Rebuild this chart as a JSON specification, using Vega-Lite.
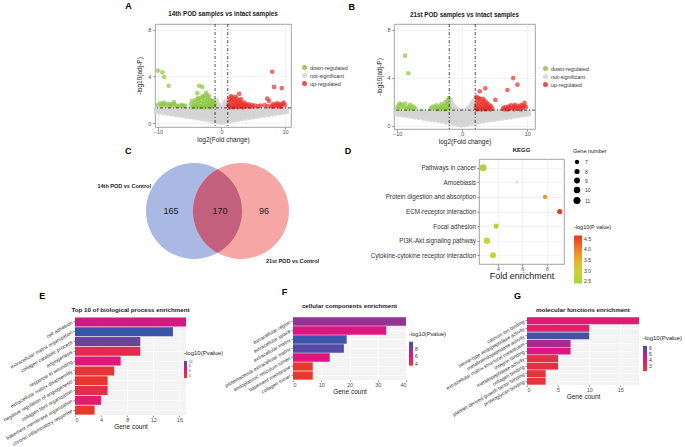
{
"$schema":"https://vega.github.io/schema/vega-lite/v6.json",
"padding":{"left":2,"top":1,"right":0,"bottom":0},
"background":"white",
"config":{
 "font":"Liberation Sans",
 "view":{"stroke":null},
 "axis":{"labelColor":"#4d4d4d","titleColor":"#1a1a1a","tickColor":"#4d4d4d","domainColor":"#4d4d4d","labelFontSize":5.5,"titleFontSize":6.5,"titleFontWeight":"normal","tickSize":2,"tickWidth":0.6,"labelPadding":1,"titlePadding":2},
 "title":{"fontSize":6.3,"fontWeight":"bold","color":"#1a1a1a","anchor":"middle"},
 "legend":{"labelColor":"#333333","titleColor":"#1a1a1a","titleFontWeight":"normal","labelFontSize":5,"titleFontSize":6}
},
"datasets":{
 "greyBase":[
{"x":-10.3,"y":0.95},{"x":-10.3,"y":1.2},{"x":-9.7,"y":0.9},{"x":-9.7,"y":1.15},{"x":-9.1,"y":0.85},{"x":-9.1,"y":1.12},
{"x":-8.5,"y":0.8},{"x":-8.5,"y":1.05},{"x":-8.5,"y":1.25},{"x":-7.9,"y":0.75},{"x":-7.9,"y":1.0},{"x":-7.9,"y":1.22},
{"x":-7.3,"y":0.7},{"x":-7.3,"y":0.95},{"x":-7.3,"y":1.2},{"x":-6.7,"y":0.65},{"x":-6.7,"y":0.92},{"x":-6.7,"y":1.18},
{"x":-6.1,"y":0.6},{"x":-6.1,"y":0.88},{"x":-6.1,"y":1.15},{"x":-5.5,"y":0.55},{"x":-5.5,"y":0.82},{"x":-5.5,"y":1.1},
{"x":-4.9,"y":0.5},{"x":-4.9,"y":0.78},{"x":-4.9,"y":1.05},{"x":-4.9,"y":1.25},{"x":-4.3,"y":0.45},{"x":-4.3,"y":0.72},{"x":-4.3,"y":1.0},{"x":-4.3,"y":1.24},
{"x":-3.7,"y":0.4},{"x":-3.7,"y":0.66},{"x":-3.7,"y":0.93},{"x":-3.7,"y":1.2},{"x":-3.1,"y":0.35},{"x":-3.1,"y":0.6},{"x":-3.1,"y":0.88},{"x":-3.1,"y":1.15},
{"x":-2.5,"y":0.28},{"x":-2.5,"y":0.55},{"x":-2.5,"y":0.82},{"x":-2.5,"y":1.1},{"x":-1.9,"y":0.22},{"x":-1.9,"y":0.5},{"x":-1.9,"y":0.78},{"x":-1.9,"y":1.05},{"x":-1.9,"y":1.27},
{"x":-1.3,"y":0.15},{"x":-1.3,"y":0.42},{"x":-1.3,"y":0.7},{"x":-1.3,"y":0.98},{"x":-1.3,"y":1.24},{"x":-0.7,"y":0.08},{"x":-0.7,"y":0.35},{"x":-0.7,"y":0.62},{"x":-0.7,"y":0.9},{"x":-0.7,"y":1.18},
{"x":-0.2,"y":0.03},{"x":-0.2,"y":0.3},{"x":-0.2,"y":0.58},{"x":-0.2,"y":0.85},{"x":-0.2,"y":1.1},{"x":0.3,"y":0.05},{"x":0.3,"y":0.32},{"x":0.3,"y":0.6},{"x":0.3,"y":0.88},{"x":0.3,"y":1.15},
{"x":0.8,"y":0.1},{"x":0.8,"y":0.38},{"x":0.8,"y":0.66},{"x":0.8,"y":0.94},{"x":0.8,"y":1.22},{"x":1.4,"y":0.15},{"x":1.4,"y":0.43},{"x":1.4,"y":0.72},{"x":1.4,"y":1.0},{"x":1.4,"y":1.25},
{"x":2.0,"y":0.22},{"x":2.0,"y":0.5},{"x":2.0,"y":0.78},{"x":2.0,"y":1.05},{"x":2.0,"y":1.28},{"x":2.6,"y":0.28},{"x":2.6,"y":0.56},{"x":2.6,"y":0.84},{"x":2.6,"y":1.12},
{"x":3.2,"y":0.34},{"x":3.2,"y":0.62},{"x":3.2,"y":0.9},{"x":3.2,"y":1.18},{"x":3.8,"y":0.4},{"x":3.8,"y":0.68},{"x":3.8,"y":0.95},{"x":3.8,"y":1.22},
{"x":4.4,"y":0.45},{"x":4.4,"y":0.73},{"x":4.4,"y":1.0},{"x":4.4,"y":1.25},{"x":5.0,"y":0.5},{"x":5.0,"y":0.78},{"x":5.0,"y":1.05},{"x":5.6,"y":0.55},{"x":5.6,"y":0.82},{"x":5.6,"y":1.1},
{"x":6.2,"y":0.6},{"x":6.2,"y":0.87},{"x":6.2,"y":1.15},{"x":6.8,"y":0.65},{"x":6.8,"y":0.92},{"x":6.8,"y":1.2},{"x":7.4,"y":0.7},{"x":7.4,"y":0.97},{"x":7.4,"y":1.22},
{"x":8.0,"y":0.75},{"x":8.0,"y":1.0},{"x":8.0,"y":1.25},{"x":8.6,"y":0.8},{"x":8.6,"y":1.05},{"x":9.2,"y":0.85},{"x":9.2,"y":1.1},{"x":9.8,"y":0.9},{"x":9.8,"y":1.15},{"x":10.3,"y":0.95},{"x":10.3,"y":1.2},
{"x":-10.0,"y":1.07},{"x":-9.4,"y":1.0},{"x":-8.8,"y":0.95},{"x":-8.8,"y":1.18},{"x":-8.2,"y":0.9},{"x":-8.2,"y":1.13},{"x":-7.6,"y":0.85},{"x":-7.6,"y":1.1},
{"x":-7.0,"y":0.8},{"x":-7.0,"y":1.07},{"x":-6.4,"y":0.75},{"x":-6.4,"y":1.03},{"x":-6.4,"y":1.25},{"x":-5.8,"y":0.7},{"x":-5.8,"y":0.97},{"x":-5.8,"y":1.22},
{"x":-5.2,"y":0.65},{"x":-5.2,"y":0.93},{"x":-5.2,"y":1.2},{"x":-4.6,"y":0.6},{"x":-4.6,"y":0.88},{"x":-4.6,"y":1.15},{"x":-4.0,"y":0.55},{"x":-4.0,"y":0.82},{"x":-4.0,"y":1.1},
{"x":-3.4,"y":0.5},{"x":-3.4,"y":0.76},{"x":-3.4,"y":1.05},{"x":-3.4,"y":1.27},{"x":-2.8,"y":0.45},{"x":-2.8,"y":0.7},{"x":-2.8,"y":0.98},{"x":-2.8,"y":1.25},
{"x":-2.2,"y":0.38},{"x":-2.2,"y":0.65},{"x":-2.2,"y":0.92},{"x":-2.2,"y":1.2},{"x":-1.6,"y":0.3},{"x":-1.6,"y":0.58},{"x":-1.6,"y":0.85},{"x":-1.6,"y":1.12},
{"x":-1.0,"y":0.25},{"x":-1.0,"y":0.5},{"x":-1.0,"y":0.77},{"x":-1.0,"y":1.05},{"x":-0.45,"y":0.18},{"x":-0.45,"y":0.45},{"x":-0.45,"y":0.72},{"x":-0.45,"y":1.0},{"x":-0.45,"y":1.25},
{"x":0.05,"y":0.15},{"x":0.05,"y":0.45},{"x":0.05,"y":0.72},{"x":0.05,"y":1.0},{"x":0.05,"y":1.25},{"x":0.55,"y":0.2},{"x":0.55,"y":0.48},{"x":0.55,"y":0.75},{"x":0.55,"y":1.03},
{"x":1.1,"y":0.28},{"x":1.1,"y":0.55},{"x":1.1,"y":0.83},{"x":1.1,"y":1.1},{"x":1.7,"y":0.33},{"x":1.7,"y":0.6},{"x":1.7,"y":0.88},{"x":1.7,"y":1.15},
{"x":2.3,"y":0.38},{"x":2.3,"y":0.66},{"x":2.3,"y":0.93},{"x":2.3,"y":1.2},{"x":2.9,"y":0.43},{"x":2.9,"y":0.7},{"x":2.9,"y":0.98},{"x":2.9,"y":1.25},
{"x":3.5,"y":0.5},{"x":3.5,"y":0.78},{"x":3.5,"y":1.05},{"x":4.1,"y":0.57},{"x":4.1,"y":0.85},{"x":4.1,"y":1.1},{"x":4.7,"y":0.62},{"x":4.7,"y":0.9},{"x":4.7,"y":1.17},
{"x":5.3,"y":0.66},{"x":5.3,"y":0.95},{"x":5.3,"y":1.22},{"x":5.9,"y":0.7},{"x":5.9,"y":0.98},{"x":5.9,"y":1.24},{"x":6.5,"y":0.75},{"x":6.5,"y":1.03},
{"x":7.1,"y":0.8},{"x":7.1,"y":1.08},{"x":7.7,"y":0.85},{"x":7.7,"y":1.1},{"x":8.3,"y":0.9},{"x":8.3,"y":1.15},{"x":8.9,"y":0.95},{"x":8.9,"y":1.2},{"x":9.5,"y":1.0},{"x":9.5,"y":1.22},{"x":10.0,"y":1.05}
 ],
 "aSpike":[
{"x":-0.9,"y":1.45},{"x":-0.8,"y":1.7},{"x":-0.7,"y":1.95},{"x":-0.6,"y":1.6},{"x":-0.5,"y":1.4},{"x":-0.4,"y":1.55},{"x":-0.3,"y":1.35},
{"x":0.3,"y":1.4},{"x":0.4,"y":1.5},{"x":0.5,"y":1.75},{"x":0.6,"y":1.6},{"x":0.7,"y":1.9},{"x":0.8,"y":1.5},{"x":0.9,"y":1.4}
 ],
 "aDown":[
{"x":-10.0,"y":4.5},{"x":-9.3,"y":4.35},{"x":-9.0,"y":3.95},{"x":-8.3,"y":3.2},
{"x":-10.0,"y":1.55},{"x":-9.6,"y":1.7},{"x":-9.2,"y":1.6},{"x":-9.0,"y":1.75},{"x":-8.7,"y":1.5},{"x":-8.4,"y":1.65},{"x":-8.0,"y":1.6},{"x":-7.7,"y":1.55},{"x":-7.4,"y":1.65},{"x":-7.5,"y":1.8},{"x":-9.4,"y":1.45},{"x":-8.1,"y":1.45},{"x":-7.2,"y":1.5},{"x":-6.9,"y":1.45},
{"x":-6.5,"y":1.5},{"x":-6.2,"y":1.55},{"x":-6.0,"y":1.45},{"x":-5.7,"y":1.5},
{"x":-4.8,"y":1.6},{"x":-4.6,"y":1.9},{"x":-4.4,"y":1.5},{"x":-4.2,"y":1.75},{"x":-4.0,"y":2.0},{"x":-4.0,"y":1.45},{"x":-3.8,"y":1.6},{"x":-3.6,"y":1.85},{"x":-3.5,"y":2.15},{"x":-3.4,"y":1.45},
{"x":-3.2,"y":1.7},{"x":-3.1,"y":1.95},{"x":-3.0,"y":2.25},{"x":-3.0,"y":1.4},{"x":-2.8,"y":1.6},{"x":-2.7,"y":1.85},{"x":-2.6,"y":2.1},{"x":-2.5,"y":2.4},{"x":-2.5,"y":1.45},
{"x":-2.3,"y":1.7},{"x":-2.2,"y":1.95},{"x":-2.1,"y":2.2},{"x":-2.0,"y":1.5},{"x":-1.9,"y":1.75},{"x":-1.8,"y":2.0},{"x":-1.7,"y":1.45},{"x":-1.6,"y":1.65},{"x":-1.5,"y":1.9},{"x":-1.4,"y":1.5},
{"x":-1.3,"y":1.75},{"x":-1.2,"y":1.45},{"x":-1.1,"y":1.6},{"x":-4.5,"y":1.35},{"x":-3.9,"y":1.35},{"x":-3.3,"y":1.35},{"x":-2.7,"y":1.35},{"x":-2.2,"y":1.38},{"x":-1.6,"y":1.35},
{"x":-3.7,"y":2.1},{"x":-2.9,"y":2.3},{"x":-1.2,"y":1.9},{"x":-2.0,"y":2.35},{"x":-3.5,"y":3.2},{"x":-3.0,"y":3.1},{"x":-2.4,"y":2.6},{"x":-3.8,"y":2.55}
 ],
 "aUp":[
{"x":1.1,"y":1.5},{"x":1.2,"y":1.8},{"x":1.3,"y":2.05},{"x":1.4,"y":1.4},{"x":1.5,"y":1.65},{"x":1.6,"y":1.95},{"x":1.7,"y":2.2},{"x":1.8,"y":1.5},{"x":1.9,"y":1.75},{"x":2.0,"y":2.0},
{"x":2.1,"y":1.4},{"x":2.2,"y":1.6},{"x":2.3,"y":1.85},{"x":2.4,"y":2.1},{"x":2.5,"y":1.5},{"x":2.6,"y":1.7},{"x":2.7,"y":1.95},{"x":2.8,"y":1.4},{"x":2.9,"y":1.6},{"x":3.0,"y":1.8},
{"x":3.1,"y":2.05},{"x":3.2,"y":1.45},{"x":3.3,"y":1.65},{"x":3.5,"y":1.5},{"x":3.6,"y":1.75},{"x":3.8,"y":1.4},{"x":3.9,"y":1.6},{"x":1.3,"y":1.35},{"x":1.9,"y":1.35},{"x":2.6,"y":1.35},
{"x":3.4,"y":1.35},{"x":4.1,"y":1.45},{"x":4.3,"y":1.6},{"x":4.5,"y":1.4},{"x":1.5,"y":2.3},{"x":2.2,"y":2.25},
{"x":4.8,"y":1.55},{"x":5.0,"y":1.4},{"x":5.3,"y":1.5},{"x":5.8,"y":1.45},{"x":6.2,"y":1.5},{"x":6.8,"y":1.55},{"x":7.3,"y":1.45},{"x":7.5,"y":1.9},
{"x":2.8,"y":2.5},{"x":8.0,"y":4.4},{"x":8.3,"y":3.1},{"x":9.5,"y":3.0},{"x":7.2,"y":2.1},
{"x":7.9,"y":1.5},{"x":8.2,"y":1.65},{"x":8.4,"y":1.45},{"x":8.6,"y":1.55},{"x":8.8,"y":1.7},{"x":9.0,"y":1.5},{"x":9.2,"y":1.6},{"x":9.4,"y":1.45},{"x":9.6,"y":1.65},{"x":9.8,"y":1.75},{"x":10.0,"y":1.55},{"x":8.0,"y":1.4},{"x":9.1,"y":1.4}
 ],
 "bSpike":[
{"x":-1.9,"y":2.2},{"x":-1.8,"y":1.9},{"x":-1.7,"y":2.05},{"x":-1.6,"y":1.6},{"x":-1.5,"y":1.8},{"x":-1.4,"y":1.45},{"x":-1.3,"y":1.65},{"x":-1.1,"y":1.5},{"x":-0.9,"y":1.4},{"x":-0.6,"y":1.35},
{"x":0.6,"y":1.35},{"x":0.9,"y":1.45},{"x":1.1,"y":1.55},{"x":1.3,"y":1.7},{"x":1.5,"y":1.9},{"x":1.7,"y":2.05},{"x":1.8,"y":1.75},{"x":1.9,"y":2.2},{"x":1.6,"y":1.5}
 ],
 "bDown":[
{"x":-8.8,"y":5.85},{"x":-8.3,"y":4.38},
{"x":-10.0,"y":1.5},{"x":-9.8,"y":1.65},{"x":-9.5,"y":1.4},{"x":-9.3,"y":1.75},{"x":-9.0,"y":1.55},{"x":-8.8,"y":1.85},{"x":-8.6,"y":1.45},{"x":-8.3,"y":1.6},{"x":-8.0,"y":1.75},{"x":-7.8,"y":1.5},{"x":-7.5,"y":1.6},{"x":-7.3,"y":1.45},{"x":-9.6,"y":1.85},{"x":-8.1,"y":1.4},
{"x":-4.8,"y":1.45},{"x":-4.5,"y":1.6},{"x":-4.2,"y":1.5},{"x":-4.0,"y":1.7},{"x":-3.7,"y":1.45},{"x":-3.5,"y":1.6},{"x":-3.2,"y":1.8},{"x":-3.0,"y":1.5},{"x":-2.8,"y":1.65},{"x":-2.6,"y":1.95},
{"x":-2.5,"y":1.4},{"x":-2.4,"y":1.75},{"x":-2.3,"y":2.1},{"x":-2.2,"y":1.55},{"x":-2.1,"y":1.85},{"x":-2.05,"y":2.3},{"x":-2.0,"y":1.45},{"x":-3.9,"y":1.35},{"x":-3.3,"y":1.4},{"x":-2.7,"y":1.35}
 ],
 "bUp":[
{"x":2.1,"y":1.5},{"x":2.2,"y":1.8},{"x":2.3,"y":2.1},{"x":2.4,"y":1.4},{"x":2.5,"y":1.65},{"x":2.6,"y":1.95},{"x":2.7,"y":2.25},{"x":2.8,"y":1.5},{"x":2.9,"y":1.75},{"x":3.0,"y":2.0},
{"x":3.1,"y":1.4},{"x":3.2,"y":1.6},{"x":3.3,"y":1.85},{"x":3.4,"y":2.1},{"x":3.5,"y":1.5},{"x":3.6,"y":1.7},{"x":3.7,"y":1.95},{"x":3.8,"y":1.4},{"x":3.9,"y":1.6},{"x":4.0,"y":1.8},
{"x":4.2,"y":1.5},{"x":4.4,"y":1.65},{"x":4.6,"y":1.45},{"x":2.2,"y":1.35},{"x":2.9,"y":1.35},{"x":3.6,"y":1.35},{"x":4.3,"y":1.35},{"x":2.5,"y":2.3},{"x":3.2,"y":2.25},
{"x":6.3,"y":1.45},{"x":6.6,"y":1.55},{"x":6.9,"y":1.4},{"x":7.1,"y":1.6},{"x":7.3,"y":1.5},{"x":7.5,"y":1.7},{"x":7.7,"y":1.45},{"x":7.9,"y":1.6},{"x":8.1,"y":1.75},{"x":8.3,"y":1.5},
{"x":8.5,"y":1.65},{"x":8.7,"y":1.45},{"x":8.9,"y":1.6},{"x":9.1,"y":1.75},{"x":9.3,"y":1.5},{"x":9.5,"y":1.65},{"x":9.6,"y":1.9},{"x":9.8,"y":1.55},{"x":7.0,"y":1.35},{"x":8.0,"y":1.38},{"x":9.0,"y":1.36},{"x":6.5,"y":1.35},
{"x":2.2,"y":2.4},{"x":2.7,"y":2.87},{"x":3.55,"y":3.12},{"x":5.1,"y":2.15},{"x":6.95,"y":2.98},{"x":7.85,"y":3.98},{"x":8.5,"y":3.43}
 ],
 "kegg":[
{"pathway":"Pathways in cancer","fe":2.78,"n":11,"p":2.5},
{"pathway":"Amoebiasis","fe":5.55,"n":5,"p":2.7},
{"pathway":"Protein digestion and absorption","fe":7.85,"n":7,"p":3.85},
{"pathway":"ECM-receptor interaction","fe":9.05,"n":8,"p":4.6},
{"pathway":"Focal adhesion","fe":3.85,"n":8,"p":2.65},
{"pathway":"PI3K-Akt signaling pathway","fe":3.1,"n":10,"p":2.95},
{"pathway":"Cytokine-cytokine receptor interaction","fe":3.6,"n":9,"p":2.8}
 ],
 "bp":[
{"term":"cell adhesion","count":17,"p":6.8},
{"term":"extracellular matrix organization","count":15,"p":10},
{"term":"collagen catabolic process","count":10,"p":9},
{"term":"angiogenesis","count":10,"p":4.5},
{"term":"response to wounding","count":7,"p":6.2},
{"term":"extracellular matrix disassembly","count":6,"p":3.5},
{"term":"negative regulation of angiogenesis","count":5,"p":3.3},
{"term":"collagen fibril organization","count":5,"p":4.2},
{"term":"basement membrane organization","count":4,"p":5.8},
{"term":"chronic inflammatory response","count":3,"p":3.1}
 ],
 "cc":[
{"term":"extracellular region","count":40,"p":7.8},
{"term":"extracellular space","count":33,"p":6.1},
{"term":"extracellular matrix","count":19,"p":9.9},
{"term":"proteinaceous extracellular matrix","count":18,"p":9.3},
{"term":"endoplasmic reticulum lumen","count":13,"p":6.0},
{"term":"basement membrane","count":7,"p":3.6},
{"term":"collagen trimer","count":7,"p":3.6}
 ],
 "mf":[
{"term":"calcium ion binding","count":18,"p":3.9},
{"term":"serine-type endopeptidase activity","count":10,"p":3.7},
{"term":"metalloendopeptidase activity","count":10,"p":6.2},
{"term":"extracellular matrix structural constituent","count":7,"p":4.9},
{"term":"integrin binding","count":7,"p":4.2},
{"term":"metallopeptidase activity","count":5,"p":2.8},
{"term":"collagen binding","count":5,"p":2.7},
{"term":"platelet-derived growth factor binding","count":3,"p":2.5},
{"term":"proteoglycan binding","count":3,"p":2.4}
 ]
},
"spacing":1,
"resolve":{"scale":{"color":"independent","size":"independent"},"legend":{"color":"independent","size":"independent"}},
"vconcat":[
 {"spacing":-1,"resolve":{"scale":{"color":"independent","size":"independent"},"legend":{"color":"independent","size":"independent"}},"hconcat":[
  {"width":51,"height":1,"data":{"values":[]},"mark":"point","view":{"stroke":null}},
  {"title":{"text":"A","anchor":"start","fontSize":9,"fontWeight":"bold","color":"#000","dx":-11,"offset":0},
   "resolve":{"scale":{"color":"independent"},"legend":{"color":"independent"}},
   "vconcat":[{
    "width":136,"height":103,
    "title":{"text":"14th POD samples vs intact samples","offset":6},
    "view":{"stroke":"#8c8c8c","strokeWidth":0.8},
    "layer":[
     {"data":{"name":"greyBase"},"mark":{"type":"point","filled":true,"size":22,"opacity":0.85},
      "encoding":{
       "x":{"field":"x","type":"quantitative","scale":{"domain":[-10.45,10.95],"nice":false,"zero":false},"axis":{"title":"log2(Fold change)","values":[-10,-5,0,5,10],"grid":true,"gridColor":"#ebebeb","gridWidth":0.6,"domain":false,"labelPadding":0.5,"titlePadding":1}},
       "y":{"field":"y","type":"quantitative","scale":{"domain":[-0.34,8.5],"nice":false,"zero":false},"axis":{"title":"-log10(adj-P)","values":[0,2,4,6,8],"grid":true,"gridColor":"#ebebeb","gridWidth":0.6,"domain":false,"labelPadding":2.3,"titlePadding":5}},
       "color":{"datum":"not-significant","scale":{"domain":["down-regulated","not-significant","up-regulated"],"range":["#8cc63f","#d3d3d3","#e8302a"]},
        "legend":{"title":null,"orient":"none","legendX":146,"legendY":40,"symbolType":"circle","symbolSize":25,"labelFontSize":5.5,"rowPadding":1,"labelOffset":2}}
      }},
     {"data":{"name":"aSpike"},"mark":{"type":"point","filled":true,"size":22,"opacity":0.85},
      "encoding":{"x":{"field":"x","type":"quantitative"},"y":{"field":"y","type":"quantitative"},"color":{"datum":"not-significant"}}},
     {"data":{"name":"aDown"},"mark":{"type":"point","filled":true,"size":22,"opacity":0.7},
      "encoding":{"x":{"field":"x","type":"quantitative"},"y":{"field":"y","type":"quantitative"},"color":{"datum":"down-regulated"}}},
     {"data":{"name":"aUp"},"mark":{"type":"point","filled":true,"size":22,"opacity":0.7},
      "encoding":{"x":{"field":"x","type":"quantitative"},"y":{"field":"y","type":"quantitative"},"color":{"datum":"up-regulated"}}},
     {"data":{"values":[{"v":-1},{"v":1}]},"mark":{"type":"rule","color":"#222","strokeWidth":0.8,"strokeDash":[3,2,1,2]},
      "encoding":{"x":{"field":"v","type":"quantitative"}}},
     {"data":{"values":[{"h":1.3}]},"mark":{"type":"rule","color":"#222","strokeWidth":0.8,"strokeDash":[3,2,1,2]},
      "encoding":{"y":{"field":"h","type":"quantitative"}}}
    ]
   }]},
  {"title":{"text":"B","anchor":"start","fontSize":9,"fontWeight":"bold","color":"#000","dx":-28,"offset":0},
   "resolve":{"scale":{"color":"independent"},"legend":{"color":"independent"}},
   "vconcat":[{
    "width":141,"height":105,
    "title":{"text":"21st POD samples vs intact samples","offset":5},
    "view":{"stroke":"#8c8c8c","strokeWidth":0.8},
    "layer":[
     {"data":{"name":"greyBase"},"mark":{"type":"point","filled":true,"size":22,"opacity":0.85},
      "encoding":{
       "x":{"field":"x","type":"quantitative","scale":{"domain":[-10.5,11.2],"nice":false,"zero":false},"axis":{"title":"log2(Fold change)","values":[-10,-5,0,5,10],"grid":true,"gridColor":"#ebebeb","gridWidth":0.6,"domain":false,"labelPadding":0.5,"titlePadding":1}},
       "y":{"field":"y","type":"quantitative","scale":{"domain":[-0.28,8.5],"nice":false,"zero":false},"axis":{"title":"-log10(adj-P)","values":[0,2,4,6,8],"grid":true,"gridColor":"#ebebeb","gridWidth":0.6,"domain":false,"labelPadding":2,"titlePadding":4}},
       "color":{"datum":"not-significant","scale":{"domain":["down-regulated","not-significant","up-regulated"],"range":["#8cc63f","#d3d3d3","#e8302a"]},
        "legend":{"title":null,"orient":"none","legendX":148,"legendY":41,"symbolType":"circle","symbolSize":25,"labelFontSize":5.5,"rowPadding":1,"labelOffset":2}}
      }},
     {"data":{"name":"bSpike"},"mark":{"type":"point","filled":true,"size":22,"opacity":0.85},
      "encoding":{"x":{"field":"x","type":"quantitative"},"y":{"field":"y","type":"quantitative"},"color":{"datum":"not-significant"}}},
     {"data":{"name":"bDown"},"mark":{"type":"point","filled":true,"size":22,"opacity":0.7},
      "encoding":{"x":{"field":"x","type":"quantitative"},"y":{"field":"y","type":"quantitative"},"color":{"datum":"down-regulated"}}},
     {"data":{"name":"bUp"},"mark":{"type":"point","filled":true,"size":22,"opacity":0.7},
      "encoding":{"x":{"field":"x","type":"quantitative"},"y":{"field":"y","type":"quantitative"},"color":{"datum":"up-regulated"}}},
     {"data":{"values":[{"v":-2},{"v":2}]},"mark":{"type":"rule","color":"#222","strokeWidth":0.8,"strokeDash":[3,2,1,2]},
      "encoding":{"x":{"field":"v","type":"quantitative"}}},
     {"data":{"values":[{"h":1.3}]},"mark":{"type":"rule","color":"#222","strokeWidth":0.8,"strokeDash":[3,2,1,2]},
      "encoding":{"y":{"field":"h","type":"quantitative"}}}
    ]
   }]}
 ]},
 {"spacing":12,"resolve":{"scale":{"color":"independent","size":"independent"},"legend":{"color":"independent","size":"independent"}},"hconcat":[
  {"width":1,"height":1,"data":{"values":[]},"mark":"point","view":{"stroke":null}},
  {"width":244,"height":110,
   "title":{"text":"C","anchor":"start","fontSize":9,"fontWeight":"bold","color":"#000","dx":37,"offset":3},
   "layer":[
    {"data":{"values":[{"set":"14th POD vs Control","u":0,"v":0},{"set":"21st POD vs Control","u":1,"v":0}]},
     "mark":{"type":"point","shape":"circle","filled":true,"size":9216,"opacity":1},
     "encoding":{
      "x":{"field":"u","type":"quantitative","scale":{"domain":[-2.255,2.936],"nice":false,"zero":false},"axis":null},
      "y":{"field":"v","type":"quantitative","scale":{"domain":[-1.234,1.106],"nice":false,"zero":false},"axis":null},
      "color":{"field":"set","type":"nominal","scale":{"domain":["14th POD vs Control","21st POD vs Control"],"range":["#a9b9e4","#f7a6a6"]},"legend":null}}},
    {"data":{"values":[{"part":"both","u":0.5,"v":0}]},
     "mark":{"type":"point","shape":"M0,-0.872A1,1,0,0,1,0,0.872A1,1,0,0,1,0,-0.872Z","filled":true,"size":9216,"opacity":1,"color":"#c2607e"},
     "encoding":{"x":{"field":"u","type":"quantitative"},"y":{"field":"v","type":"quantitative"}}},
    {"data":{"values":[{"n":"165","u":-0.49,"v":0},{"n":"170","u":0.553,"v":0},{"n":"96","u":1.49,"v":0}]},
     "mark":{"type":"text","fontSize":9,"color":"#1a1a1a"},
     "encoding":{"x":{"field":"u","type":"quantitative"},"y":{"field":"v","type":"quantitative"},"text":{"field":"n"}}},
    {"data":{"values":[{"lab":"14th POD vs Control","u":-0.915,"v":0.53}]},
     "mark":{"type":"text","fontSize":5.5,"fontWeight":"bold","align":"right","color":"#1a1a1a"},
     "encoding":{"x":{"field":"u","type":"quantitative"},"y":{"field":"v","type":"quantitative"},"text":{"field":"lab"}}},
    {"data":{"values":[{"lab":"21st POD vs Control","u":1.53,"v":-1.06}]},
     "mark":{"type":"text","fontSize":5.5,"fontWeight":"bold","align":"left","color":"#1a1a1a"},
     "encoding":{"x":{"field":"u","type":"quantitative"},"y":{"field":"v","type":"quantitative"},"text":{"field":"lab"}}}
   ]},
  {"title":{"text":"D","anchor":"start","fontSize":9,"fontWeight":"bold","color":"#000","dx":-25,"dy":9,"offset":0},
   "resolve":{"scale":{"color":"independent","size":"independent"},"legend":{"color":"independent","size":"independent"}},
   "vconcat":[{
    "width":85,"height":105,
    "title":{"text":"KEGG","offset":-4,"fontSize":6},
    "view":{"stroke":"#8c8c8c","strokeWidth":0.8},
    "data":{"name":"kegg"},
    "mark":{"type":"circle","opacity":1},
    "encoding":{
     "x":{"field":"fe","type":"quantitative","scale":{"domain":[2.45,9.4],"nice":false,"zero":false},"axis":{"title":"Fold enrichment","values":[4,6,8],"titleFontSize":9,"titlePadding":0,"labelFontSize":5,"labelPadding":0.5,"grid":true,"gridColor":"#ebebeb","gridWidth":0.6,"domain":false}},
     "y":{"field":"pathway","type":"nominal","sort":null,"scale":{"type":"point","padding":0.6},"axis":{"title":null,"labelFontSize":6.3,"labelColor":"#333333","grid":true,"gridColor":"#ebebeb","gridWidth":0.6,"domain":false,"labelPadding":1.5}},
     "size":{"field":"n","type":"quantitative","scale":{"domain":[5,11],"range":[3,50]},
      "legend":{"title":"Gene number","orient":"none","legendX":94,"legendY":-10,"values":[7,8,9,10,11],"symbolFillColor":"#000000","symbolStrokeColor":"#000000","symbolStrokeWidth":0,"titleFontSize":5.5,"labelFontSize":5,"rowPadding":3}},
     "color":{"field":"p","type":"quantitative","scale":{"domain":[2.4,3.0,3.5,4.0,4.65],"range":["#a8d43a","#cdd236","#e8b02c","#f07f28","#ea3325"],"clamp":true,"interpolate":"rgb"},
      "legend":{"title":"-log10(P value)","orient":"none","legendX":95,"legendY":66,"direction":"vertical","gradientLength":48,"gradientThickness":8,"values":[2.5,3,3.5,4,4.5],"format":".1f","titleFontSize":5.5,"labelFontSize":5}}
    }
   }]}
 ]},
 {"spacing":-1,"resolve":{"scale":{"color":"independent"},"legend":{"color":"independent"}},"hconcat":[
  {"title":{"text":"E","anchor":"start","fontSize":9,"fontWeight":"bold","color":"#000","dx":37,"offset":6},
   "vconcat":[{
    "width":111,"height":98,
    "title":{"text":"Top 10 of biological process enrichment","offset":4,"fontSize":6.2},
    "view":{"fill":"#f3f3f3","stroke":null},
    "data":{"name":"bp"},
    "mark":{"type":"bar"},
    "encoding":{
     "y":{"field":"term","type":"nominal","sort":null,"scale":{"paddingInner":0.08,"paddingOuter":0.04},"axis":{"title":null,"labelAngle":-30,"labelFontSize":5,"labelColor":"#333333","labelAlign":"right","labelBaseline":"middle","grid":true,"gridColor":"#ffffff","gridWidth":0.6,"domain":false,"bandPosition":0.5,"labelPadding":1.5}},
     "x":{"field":"count","type":"quantitative","scale":{"domain":[0,17],"nice":false},"axis":{"title":"Gene count","values":[0,4,8,12,16],"grid":true,"gridColor":"#ffffff","gridWidth":0.7,"domain":false,"labelPadding":0.5,"titlePadding":1,"tickSize":1.5}},
     "color":{"field":"p","type":"quantitative","scale":{"domain":[3,6.5,10],"range":["#e8392a","#e0157f","#3a55a8"],"interpolate":"rgb"},
      "legend":{"title":"-log10(Pvalue)","orient":"none","legendX":109,"legendY":33,"direction":"vertical","gradientLength":17,"gradientThickness":3,"labelFontSize":3,"titleFontSize":6,"values":[4,6,8,10]}}
    }
   }]},
  {"title":{"text":"F","anchor":"start","fontSize":9,"fontWeight":"bold","color":"#000","dx":58,"offset":6},
   "vconcat":[{
    "width":113,"height":63,
    "title":{"text":"cellular components enrichment","offset":8,"fontSize":6.2},
    "view":{"fill":"#f3f3f3","stroke":null},
    "data":{"name":"cc"},
    "mark":{"type":"bar"},
    "encoding":{
     "y":{"field":"term","type":"nominal","sort":null,"scale":{"paddingInner":0.08,"paddingOuter":0.04},"axis":{"title":null,"labelAngle":-30,"labelFontSize":5,"labelColor":"#333333","labelAlign":"right","labelBaseline":"middle","grid":true,"gridColor":"#ffffff","gridWidth":0.6,"domain":false,"bandPosition":0.5,"labelPadding":1.5}},
     "x":{"field":"count","type":"quantitative","scale":{"domain":[0,40],"nice":false},"axis":{"title":"Gene count","values":[0,10,20,30,40],"grid":true,"gridColor":"#ffffff","gridWidth":0.7,"domain":false,"labelPadding":0.5,"titlePadding":1,"tickSize":1.5}},
     "color":{"field":"p","type":"quantitative","scale":{"domain":[3.5,6,9.9],"range":["#e8392a","#e0157f","#3c55ad"],"interpolate":"rgb"},
      "legend":{"title":"-log10(Pvalue)","orient":"none","legendX":116,"legendY":14,"direction":"vertical","gradientLength":24,"gradientThickness":4,"labelFontSize":5,"titleFontSize":5.7,"values":[4,6,8]}}
    }
   }]},
  {"title":{"text":"G","anchor":"start","fontSize":9,"fontWeight":"bold","color":"#000","dx":69,"offset":6},
   "vconcat":[{
    "width":112,"height":68,
    "title":{"text":"molecular functions enrichment","offset":4,"fontSize":6.2},
    "view":{"fill":"#f3f3f3","stroke":null},
    "data":{"name":"mf"},
    "mark":{"type":"bar"},
    "encoding":{
     "y":{"field":"term","type":"nominal","sort":null,"scale":{"paddingInner":0.08,"paddingOuter":0.04},"axis":{"title":null,"labelAngle":-30,"labelFontSize":5,"labelColor":"#333333","labelAlign":"right","labelBaseline":"middle","grid":true,"gridColor":"#ffffff","gridWidth":0.6,"domain":false,"bandPosition":0.5,"labelPadding":1.5}},
     "x":{"field":"count","type":"quantitative","scale":{"domain":[0,18],"nice":false},"axis":{"title":"Gene count","values":[0,5,10,15],"grid":true,"gridColor":"#ffffff","gridWidth":0.7,"domain":false,"labelPadding":0.5,"titlePadding":1,"tickSize":1.5}},
     "color":{"field":"p","type":"quantitative","scale":{"domain":[2.1,4.2,6.3],"range":["#e8392a","#e0157f","#3a55a8"],"interpolate":"rgb"},
      "legend":{"title":"-log10(Pvalue)","orient":"none","legendX":116,"legendY":18,"direction":"vertical","gradientLength":25,"gradientThickness":4,"labelFontSize":5,"titleFontSize":6,"values":[3,4,5,6]}}
    }
   }]}
 ]}
]
}
